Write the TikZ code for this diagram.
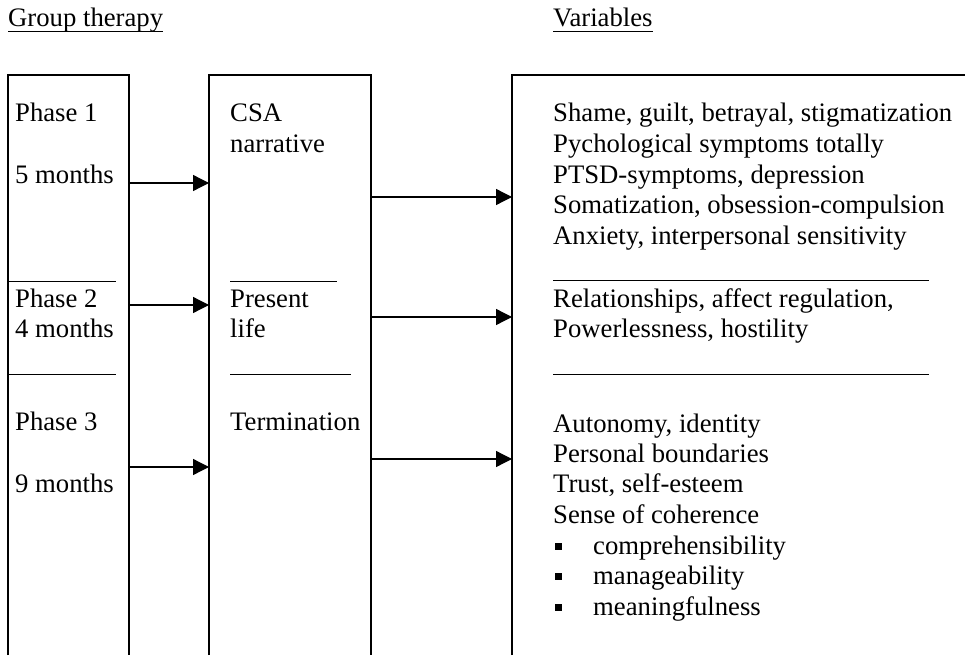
\documentclass[tikz,border=0pt]{standalone}
\usepackage{fontspec}
\setmainfont{Liberation Serif}
\usetikzlibrary{arrows.meta,calc}
\begin{document}
\begin{tikzpicture}[x=1pt,y=-1pt,
  boxline/.style={line width=1.3pt},
  arr/.style={line width=1.3pt,-{Triangle[length=16pt,width=16pt]}},
  sep/.style={line width=1pt},
  txt/.style={anchor=base west,inner sep=0pt,font=\fontsize{26.7}{30.5}\selectfont},
  bullet/.style={fill=black,inner sep=0pt,minimum size=7pt,draw=none},
  region/.style={anchor=north west,inner sep=0pt,outer sep=0pt,draw=none,minimum height=580pt}]
\useasboundingbox (0,0) rectangle (965,655);
% titles
\node[txt] (gt) at (8,27) {Group therapy};
\node[txt] (vt) at (553,27) {Variables};
\draw[sep] ($(gt.base west)+(0,5)$) -- ($(gt.base east)+(0,5)$);
\draw[sep] ($(vt.base west)+(0,5)$) -- ($(vt.base east)+(0,5)$);
% boxes (open at bottom)
\node[region,minimum width=121pt] (b1) at (8,75) {};
\node[region,minimum width=162pt] (b2) at (209,75) {};
\node[region,minimum width=453pt] (b3) at (512,75) {};
\draw[boxline] (b1.south west) -- (b1.north west) -- (b1.north east) -- (b1.south east);
\draw[boxline] (b2.south west) -- (b2.north west) -- (b2.north east) -- (b2.south east);
\draw[boxline] (b3.south west) -- (b3.north west) -- (b3.north east);
% arrow levels
\coordinate (r1) at (0,183);
\coordinate (r2) at (0,305);
\coordinate (r3) at (0,467);
\coordinate (s1) at (0,197);
\coordinate (s2) at (0,317);
\coordinate (s3) at (0,459);
\draw[arr] (b1.east |- r1) -- (b2.west |- r1);
\draw[arr] (b1.east |- r2) -- (b2.west |- r2);
\draw[arr] (b1.east |- r3) -- (b2.west |- r3);
\draw[arr] (b2.east |- s1) -- (b3.west |- s1);
\draw[arr] (b2.east |- s2) -- (b3.west |- s2);
\draw[arr] (b2.east |- s3) -- (b3.west |- s3);
% box 1 texts
\node[txt] (p1) at (15,122) {Phase 1};
\node[txt] (m1) at (15,183) {5 months};
\node[txt] (p2) at (15,307) {Phase 2};
\node[txt] (m2) at (15,337) {4 months};
\node[txt] (p3) at (15,430) {Phase 3};
\node[txt] (m3) at (15,492) {9 months};
\draw[sep] (9,281) -- (116,281);
\draw[sep] (9,374) -- (116,374);
% box 2 texts
\node[txt] (c1) at (230,122) {CSA};
\node[txt] (c2) at (230,153) {narrative};
\node[txt] (c3) at (230,307) {Present};
\node[txt] (c4) at (230,337) {life};
\node[txt] (c5) at (230,430) {Termination};
\draw[sep] (230,281) -- (337,281);
\draw[sep] (230,374) -- (351,374);
% box 3 texts
\node[txt] (v1) at (553,122) {Shame, guilt, betrayal, stigmatization};
\node[txt] (v2) at (553,152.5) {Pychological symptoms totally};
\node[txt] (v3) at (553,183) {PTSD-symptoms, depression};
\node[txt] (v4) at (553,213.5) {Somatization, obsession-compulsion};
\node[txt] (v5) at (553,244) {Anxiety, interpersonal sensitivity};
\draw[sep] (553,280) -- (929,280);
\node[txt] (v6) at (553,307) {Relationships, affect regulation,};
\node[txt] (v7) at (553,337) {Powerlessness, hostility};
\draw[sep] (553,374) -- (929,374);
\node[txt] (v8) at (553,432) {Autonomy, identity};
\node[txt] (v9) at (553,462) {Personal boundaries};
\node[txt] (v10) at (553,492.5) {Trust, self-esteem};
\node[txt] (v11) at (553,523) {Sense of coherence};
\node[txt] (v12) at (593,554) {comprehensibility};
\node[txt] (v13) at (593,584.5) {manageability};
\node[txt] (v14) at (593,615) {meaningfulness};
\node[bullet] (d1) at (558.5,546) {};
\node[bullet] (d2) at (558.5,576.5) {};
\node[bullet] (d3) at (558.5,607) {};
\end{tikzpicture}
\end{document}
